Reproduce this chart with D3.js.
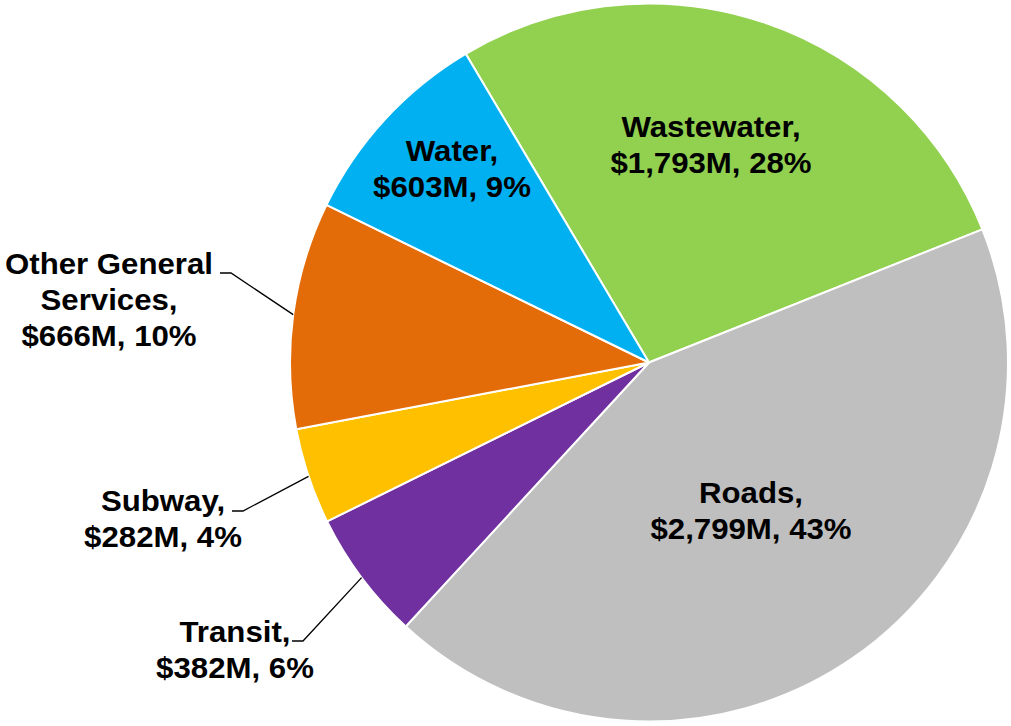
<!DOCTYPE html>
<head>
  <meta charset="utf-8">
  <script src="https://d3js.org/d3.v7.min.js"></script>
  <style>
    body { margin:0; background:#fff; }
    text { font-family: "Liberation Sans", Arial, sans-serif; font-weight: bold; fill: #000; }
  </style>
</head>
<body>
<svg width="1011" height="726"></svg>
<script>

// data, clockwise from the Water/Wastewater boundary
const categories = ["Wastewater", "Roads", "Transit", "Subway", "Other General Services", "Water"]
const values     = [1793, 2799, 382, 282, 666, 603]   // $M
const percents   = [28, 43, 6, 4, 10, 9]
const nameLines  = [["Wastewater,"], ["Roads,"], ["Transit,"], ["Subway,"], ["Other General", "Services,"], ["Water,"]]
const colors     = ["#92D050", "#BFBFBF", "#7030A0", "#FFC000", "#E36C09", "#00B0F0"]

// label layout: text centre x, first line centre y, optional leader [x1, x2, y]
const labelLayout = [
  {x: 711, y: 126},
  {x: 751, y: 492},
  {x: 235, y: 631, leader: [292, 303, 641]},
  {x: 163, y: 500, leader: [232, 243, 511]},
  {x: 109, y: 263, leader: [220, 231, 273]},
  {x: 452, y: 150},
]

const svg = d3.select("svg"),
      cx = 649, cy = 362.5, radius = 359,
      lineH = 36, fontSize = 30

const fmt = d3.format(",")
const rad = d => d * Math.PI / 180

const pie = d3.pie().sort(null).value(d => d.value)
  .startAngle(rad(-30.7)).endAngle(rad(329.3))

const rows = categories.map((c, i) => ({
  name: c, value: values[i], pct: percents[i], color: colors[i],
  lines: nameLines[i].concat(["$" + fmt(values[i]) + "M, " + percents[i] + "%"]),
  layout: labelLayout[i]
}))

const arcs = pie(rows)
const arc = d3.arc().innerRadius(0).outerRadius(radius)

const g = svg.append("g").attr("transform", `translate(${cx},${cy})`)

g.selectAll("path")
  .data(arcs)
  .enter().append("path")
    .attr("d", arc)
    .attr("fill", d => d.data.color)
    .attr("stroke", "#fff")
    .attr("stroke-width", 2)
    .attr("stroke-linejoin", "round")

// leader lines from the arc midpoint to the label
svg.selectAll(".leader")
  .data(arcs.filter(d => d.data.layout.leader))
  .enter().append("polyline")
    .attr("class", "leader")
    .attr("fill", "none")
    .attr("stroke", "#000")
    .attr("stroke-width", 1.3)
    .attr("points", d => {
      const a = (d.startAngle + d.endAngle) / 2,
            px = cx + radius * Math.sin(a),
            py = cy - radius * Math.cos(a),
            L = d.data.layout.leader
      return [[L[0], L[2]], [L[1], L[2]], [px, py]].map(p => p.join(",")).join(" ")
    })

const labels = svg.selectAll(".label")
  .data(arcs)
  .enter().append("g")
    .attr("class", "label")
    .attr("transform", d => `translate(${d.data.layout.x},${d.data.layout.y}) scale(1.04,1)`)

labels.selectAll("text")
  .data(d => d.data.lines)
  .enter().append("text")
    .attr("text-anchor", "middle")
    .attr("font-size", fontSize)
    .attr("y", (d, i) => i * lineH + fontSize * 0.36)
    .text(d => d)

</script>
</body>
